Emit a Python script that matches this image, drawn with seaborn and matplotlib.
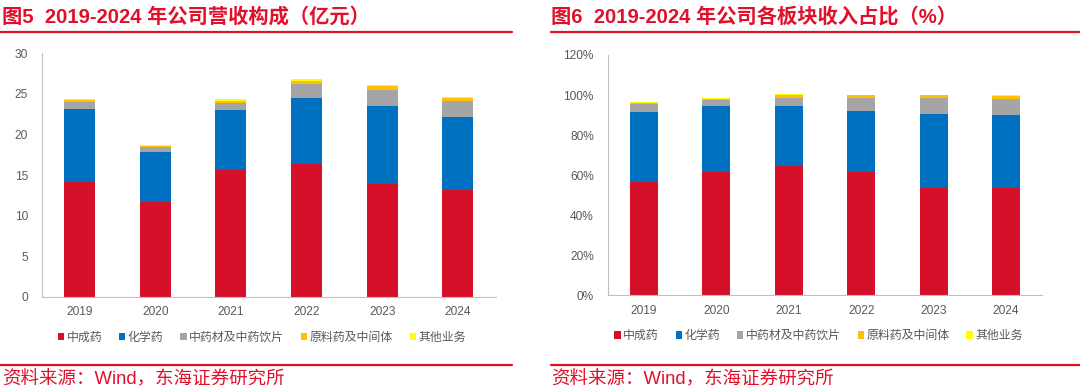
import numpy as np
import seaborn as sns
import matplotlib.pyplot as plt
from matplotlib.patches import Patch
from matplotlib.lines import Line2D
from matplotlib.ticker import FuncFormatter

years = ['2019', '2020', '2021', '2022', '2023', '2024']
segments = ['中成药', '化学药', '中药材及中药饮片', '原料药及中间体', '其他业务']
seg_colors = ['#D7102A', '#0070C0', '#A5A5A5', '#FFC000', '#FFFF00']

# 营收构成（亿元）
rev_tcm = [14.18, 11.63, 15.58, 16.30, 13.93, 13.19]
rev_chem = [8.92, 6.25, 7.40, 8.24, 9.58, 8.97]
rev_herb = [0.94, 0.57, 0.94, 1.73, 2.02, 2.01]
rev_api = [0.16, 0.13, 0.25, 0.36, 0.47, 0.29]
rev_other = [0.18, 0.12, 0.17, 0.17, 0.15, 0.16]

# 收入占比（%）
pct_tcm = [56.4, 61.4, 64.4, 61.4, 53.6, 53.6]
pct_chem = [35.0, 33.3, 30.3, 30.6, 36.9, 36.4]
pct_herb = [4.0, 2.8, 4.0, 6.4, 7.9, 8.0]
pct_api = [0.5, 0.7, 1.1, 1.4, 1.4, 1.5]
pct_other = [0.5, 0.5, 0.5, 0.4, 0.4, 0.6]

RED = '#E0102A'
AXIS = '#BFBFBF'
TXT = '#595959'

sns.set_style('white')
plt.rcParams['font.family'] = ['Liberation Sans', 'Noto Sans CJK SC', 'DejaVu Sans']


def stacked_bars(ax, series, width):
    cum = np.cumsum(np.array(series), axis=0)
    # draw from the top layer down so each segment overlays the next
    for i in reversed(range(len(series))):
        sns.barplot(x=years, y=cum[i], color=seg_colors[i], saturation=1,
                    width=width, errorbar=None, linewidth=0, edgecolor='none', ax=ax)
    ax.set_xlabel('')
    ax.set_ylabel('')
    ax.set_xlim(-0.5, len(years) - 0.5)
    ax.set_xticks(range(len(years)))
    ax.set_xticklabels(years)
    ax.set_xticks(np.arange(-0.5, len(years)), minor=True)
    ax.tick_params(axis='x', which='major', length=0, pad=7, labelsize=8.6, labelcolor=TXT)
    ax.tick_params(axis='x', which='minor', length=4, color=AXIS, width=0.8)
    ax.tick_params(axis='y', length=4, color=AXIS, width=0.8, pad=6, labelsize=8.6, labelcolor=TXT)
    for s in ['top', 'right']:
        ax.spines[s].set_visible(False)
    for s in ['left', 'bottom']:
        ax.spines[s].set_color(AXIS)
        ax.spines[s].set_linewidth(0.8)

    handles = [Patch(facecolor=c, edgecolor='none') for c in seg_colors]
    ax.legend(handles, segments, loc='center', bbox_to_anchor=(0.485, -0.17),
              ncol=5, frameon=False, handlelength=0.55, handleheight=0.55,
              handletextpad=0.2, columnspacing=1.4, labelcolor=TXT,
              prop={'size': 8.6})


fig = plt.figure(figsize=(10.8, 3.92), dpi=100)

ax1 = fig.add_axes([0.0386, 0.2431, 0.4204, 0.6209])
stacked_bars(ax1, [rev_tcm, rev_chem, rev_herb, rev_api, rev_other], 0.41)
ax1.set_ylim(0, 30)
ax1.set_yticks(range(0, 31, 5))

ax2 = fig.add_axes([0.5627, 0.2467, 0.4024, 0.6130])
stacked_bars(ax2, [pct_tcm, pct_chem, pct_herb, pct_api, pct_other], 0.39)
ax2.set_ylim(0, 120)
ax2.set_yticks(range(0, 121, 20))
ax2.yaxis.set_major_formatter(FuncFormatter(lambda v, p: f'{v:.0f}%'))

# titles, rules and source notes
fig.text(0.002, 0.958, '图5  2019-2024 年公司营收构成（亿元）', color=RED,
         fontsize=14.6, fontweight='bold', va='center', ha='left')
fig.text(0.510, 0.958, '图6  2019-2024 年公司各板块收入占比（%）', color=RED,
         fontsize=14.6, fontweight='bold', va='center', ha='left')

for x0, x1 in [(0.0, 0.474), (0.510, 1.0)]:
    fig.add_artist(Line2D([x0, x1], [1 - 31.5 / 392] * 2, color=RED, lw=1.6))
    fig.add_artist(Line2D([x0, x1], [1 - 364.5 / 392] * 2, color=RED, lw=1.6))

fig.text(0.002, 1 - 380 / 392, '资料来源：Wind，东海证券研究所', color=RED,
         fontsize=13.3, va='center', ha='left')
fig.text(0.510, 1 - 380 / 392, '资料来源：Wind，东海证券研究所', color=RED,
         fontsize=13.3, va='center', ha='left')

fig.savefig('out.png', dpi=100)
